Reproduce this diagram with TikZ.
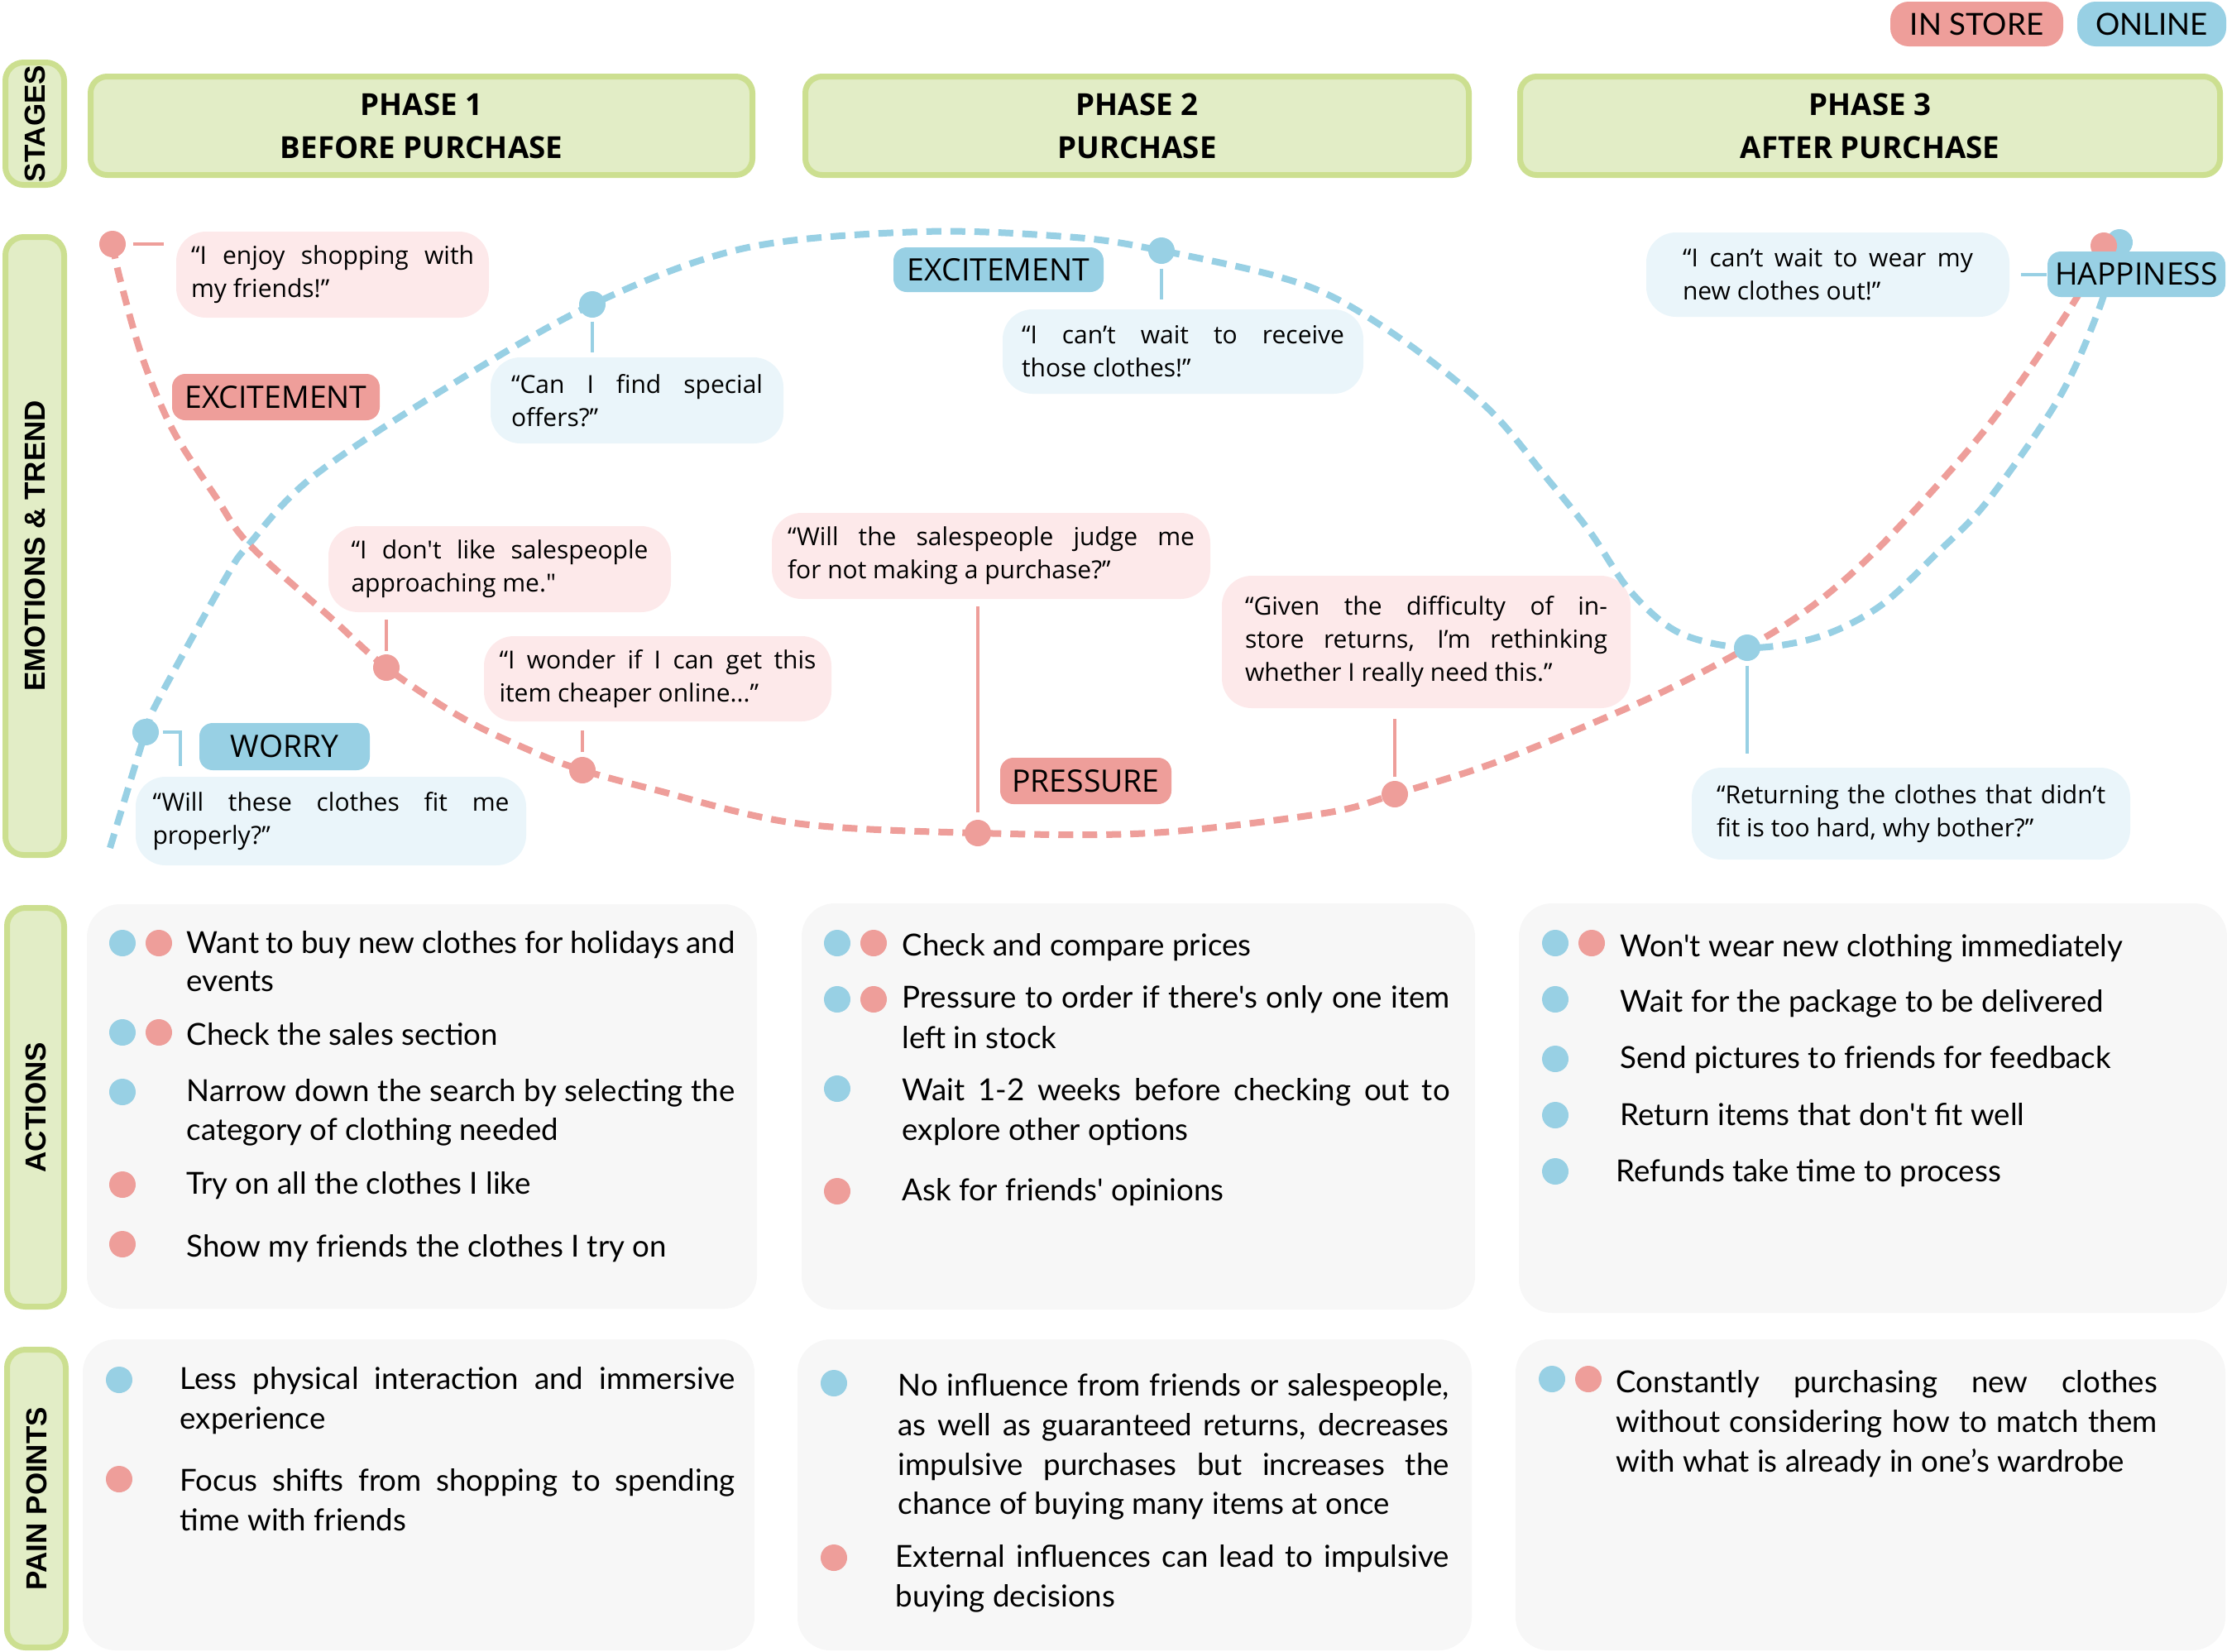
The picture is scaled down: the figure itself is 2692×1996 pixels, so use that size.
\documentclass[tikz,border=0pt]{standalone}
\usepackage{fontspec}
\newfontfamily\qfont{Open Sans}[Ligatures=TeXOff]
\newfontfamily\afont{Lato}[Ligatures=TeXOff]
\newfontfamily\sfont{Liberation Sans}[Ligatures=TeXOff]
\newlength\px
\setlength\px{0.3pt}
\definecolor{pk}{HTML}{EE9E9A}
\definecolor{bl}{HTML}{98D0E4}
\definecolor{pkl}{HTML}{FDE9EA}
\definecolor{bll}{HTML}{EAF5FA}
\definecolor{gf}{HTML}{E2EDC6}
\definecolor{gb}{HTML}{CCDF90}
\definecolor{pf}{HTML}{F7F7F7}
\begin{document}
\begin{tikzpicture}[x=0.3pt,y=-0.3pt,
 sidebox/.style={draw=gb, fill=gf, line width=7\px, rounded corners=22\px, inner sep=0},
 sidetxt/.style={rotate=90, inner sep=0, font=\sfont\bfseries\fontsize{10.5}{12}\selectfont},
 phasebox/.style={draw=gb, fill=gf, line width=7\px, rounded corners=20\px, inner sep=0, align=center, font=\qfont\bfseries\fontsize{11}{15.6}\selectfont},
 panel/.style={fill=pf, rounded corners=40\px, inner sep=0},
 bub/.style={rounded corners=36\px, inner sep=0, align=left, font=\qfont\fontsize{9}{12}\selectfont},
 bubp/.style={bub, fill=pkl},
 bubb/.style={bub, fill=bll},
 tag/.style={rounded corners=16\px, inner sep=0, font=\qfont\fontsize{11.2}{13}\selectfont},
 tagp/.style={tag, fill=pk},
 tagb/.style={tag, fill=bl},
 legend/.style={rounded corners=22\px, inner sep=0, font=\afont\fontsize{11}{13}\selectfont},
 dotp/.style={circle, fill=pk, inner sep=0, minimum size=32\px},
 dotb/.style={circle, fill=bl, inner sep=0, minimum size=32\px},
 trendp/.style={draw=pk, line width=8\px, dash pattern=on 18\px off 11\px},
 trendb/.style={draw=bl, line width=8\px, dash pattern=on 18\px off 11\px},
 connp/.style={draw=pk, line width=4\px},
 connb/.style={draw=bl, line width=4\px},
 act/.style={anchor=base west, inner sep=0, font=\afont\fontsize{11}{14}\selectfont},
]
\useasboundingbox (0,0) rectangle (2692,1996);
\clip (0,0) rectangle (2692,1996);

% legend
\node[legend, fill=pk, minimum width=209\px, minimum height=54\px] (lgS) at (2389.5,29) {IN STORE};
\node[legend, fill=bl, minimum width=180\px, minimum height=54\px] (lgO) at (2601,29) {ONLINE};

% side labels
\node[sidebox, minimum width=71\px, minimum height=148\px] (sSt) at (42,149.5) {};
\node[sidetxt] (tSt) at (sSt.center) {STAGES};
\node[sidebox, minimum width=71\px, minimum height=747\px] (sEm) at (42,660) {};
\node[sidetxt] (tEm) at (sEm.center) {EMOTIONS \& TREND};
\node[sidebox, minimum width=69\px, minimum height=482\px] (sAc) at (43,1338.5) {};
\node[sidetxt] (tAc) at (sAc.center) {ACTIONS};
\node[sidebox, minimum width=71\px, minimum height=360\px] (sPa) at (44,1811.5) {};
\node[sidetxt] (tPa) at (sPa.center) {PAIN POINTS};

% phases
\node[phasebox, minimum width=800\px, minimum height=119\px] (ph1) at (509.5,152) {PHASE 1\\BEFORE PURCHASE};
\node[phasebox, minimum width=802\px, minimum height=119\px] (ph2) at (1374.5,152) {PHASE 2\\PURCHASE};
\node[phasebox, minimum width=846\px, minimum height=119\px] (ph3) at (2260.5,152) {PHASE 3\\AFTER PURCHASE};

% panels
\node[panel, minimum width=810\px, minimum height=489\px] (pa1) at (510,1337.5) {};
\node[panel, minimum width=814\px, minimum height=491\px] (pa2) at (1376,1337.5) {};
\node[panel, minimum width=856\px, minimum height=495\px] (pa3) at (2264,1339.5) {};
\node[panel, minimum width=812\px, minimum height=376\px] (pp1) at (506,1807) {};
\node[panel, minimum width=815\px, minimum height=376\px] (pp2) at (1371.5,1807) {};
\node[panel, minimum width=858\px, minimum height=376\px] (pp3) at (2261,1807) {};

% quote bubbles
\node[bubp, minimum width=378\px, minimum height=104\px] (q1) at (402,332) {\makebox[342\px][s]{“I enjoy shopping with}\\my friends!”};
\node[bubb, minimum width=354\px, minimum height=104\px] (q2) at (770,484) {\makebox[304\px][s]{“Can I find special}\\offers?”};
\node[bubp, minimum width=414\px, minimum height=104\px] (q3) at (604,688) {\makebox[359\px][s]{“I don't like salespeople}\\approaching me."};
\node[bubp, minimum width=420\px, minimum height=103\px] (q4) at (795,820.5) {\makebox[383\px][s]{“I wonder if I can get this}\\item cheaper online...”};
\node[bubb, minimum width=472\px, minimum height=107\px] (q5) at (400,992.5) {\makebox[431\px][s]{“Will these clothes fit me}\\properly?”};
\node[bubp, minimum width=530\px, minimum height=104\px] (q6) at (1198,672) {\makebox[492\px][s]{“Will the salespeople judge me}\\for not making a purchase?”};
\node[bubp, minimum width=494\px, minimum height=160\px] (q7) at (1724,776) {\makebox[438\px][s]{“Given the difficulty of in-}\\\makebox[438\px][s]{store returns, I’m rethinking}\\whether I really need this.”};
\node[bubb, minimum width=436\px, minimum height=102\px] (q8) at (1430,425) {\makebox[390\px][s]{“I can’t wait to receive}\\those clothes!”};
\node[bubb, minimum width=439\px, minimum height=102\px] (q9) at (2209.5,332) {\makebox[351\px][s]{“I can’t wait to wear my}\\new clothes out!”};
\node[bubb, minimum width=530\px, minimum height=111\px] (q10) at (2310,983.5) {\makebox[470\px][s]{“Returning the clothes that didn’t}\\fit is too hard, why bother?”};

% trend curves
\draw[trendb] plot[smooth, tension=0.55] coordinates {(133,1025) (176,885) (192,845) (272,700) (301,658) (376,578) (531,474) (716,368) (900,300) (1116,280) (1300,287) (1404,303) (1540,333) (1619,363) (1712,423) (1802,497) (1869,577) (1922,643) (1971,715) (2030,765) (2112,783) (2198,770) (2272,733) (2340,670) (2403,605) (2489,481) (2536,377) (2562,293)};
\draw[trendp] plot[smooth, tension=0.55] coordinates {(136,295) (145,337) (172,432) (209,520) (261,601) (301,658) (399,746) (467,807) (559,868) (645,909) (704,931) (789,954) (961,995) (1182,1007) (1391,1007) (1601,983) (1686,960) (1812,920) (1987,847) (2112,783) (2198,727) (2283,650) (2403,515) (2504,370) (2543,297)};

% dots
\node[dotp] (P1) at (136,295) {};
\node[dotp] (P2) at (467,807) {};
\node[dotp] (P3) at (704,931) {};
\node[dotp] (P4) at (1182,1007) {};
\node[dotp] (P5) at (1686,960) {};
\node[dotb] (B0) at (176,885) {};
\node[dotb] (B1) at (716,368) {};
\node[dotb] (B2) at (1404,303) {};
\node[dotb] (B3) at (2112,783) {};
\node[dotb] (BH) at (2562,293) {};
\node[dotp] (PH) at (2543,297) {};

% emotion tags
\node[tagp, minimum width=251\px, minimum height=56\px] (eEx) at (333.5,480) {EXCITEMENT};
\node[tagb, minimum width=254\px, minimum height=54\px] (eEx2) at (1207,326) {EXCITEMENT};
\node[tagb, minimum width=206\px, minimum height=57\px] (eWo) at (344,902.5) {WORRY};
\node[tagp, minimum width=207\px, minimum height=56\px] (ePr) at (1312.5,944) {PRESSURE};
\node[tagb, minimum width=215\px, minimum height=55\px] (eHa) at (2582.5,331.5) {HAPPINESS};

% connectors
\coordinate (b0k) at (218,939);
\draw[connp, shorten <=8\px, shorten >=14\px] (P1) -- (P1 -| q1.west);
\draw[connb, shorten <=4\px, shorten >=5\px] (B1) -- (B1 |- q2.north);
\draw[connp, shorten <=3\px, shorten >=8\px] (P2) -- (P2 |- q3.south);
\draw[connp, shorten <=5\px, shorten >=10\px] (P3) -- (P3 |- q4.south);
\draw[connb, shorten <=4\px, shorten >=13\px] (B0) -| (b0k);
\draw[connp, shorten <=8\px, shorten >=8\px] (P4) -- (P4 |- q6.south);
\draw[connp, shorten <=4\px, shorten >=12\px] (P5) -- (P5 |- q7.south);
\draw[connb, shorten <=5\px, shorten >=11\px] (B2) -- (B2 |- q8.north);
\draw[connb, shorten <=13\px] (q9.east) -- (q9.east -| eHa.west);
\draw[connb, shorten <=5\px, shorten >=16\px] (B3) -- (B3 |- q10.north);

% actions phase 1
\node[dotb] (a1b1) at (148,1140) {};
\node[dotp] (a1p1) at (192,1140) {};
\node[act] (a1t1) at (225,1152) {\makebox[663\px][s]{Want to buy new clothes for holidays and}};
\node[act] (a1t1b) at (225,1198) {events};
\node[dotb] (a1b2) at (148,1248) {};
\node[dotp] (a1p2) at (192,1248) {};
\node[act] (a1t2) at (225,1263) {Check the sales section};
\node[dotb] (a1b3) at (148,1320) {};
\node[act] (a1t3) at (225,1331) {\makebox[663\px][s]{Narrow down the search by selecting the}};
\node[act] (a1t3b) at (225,1378) {category of clothing needed};
\node[dotp] (a1p4) at (148,1432) {};
\node[act] (a1t4) at (225,1443) {Try on all the clothes I like};
\node[dotp] (a1p5) at (148,1504) {};
\node[act] (a1t5) at (225,1519) {Show my friends the clothes I try on};

% actions phase 2
\node[dotb] (a2b1) at (1012,1140) {};
\node[dotp] (a2p1) at (1056,1140) {};
\node[act] (a2t1) at (1090,1155) {Check and compare prices};
\node[dotb] (a2b2) at (1012,1208) {};
\node[dotp] (a2p2) at (1056,1208) {};
\node[act] (a2t2) at (1090,1218) {\makebox[662\px][s]{Pressure to order if there's only one item}};
\node[act] (a2t2b) at (1090,1267) {left in stock};
\node[dotb] (a2b3) at (1012,1316) {};
\node[act] (a2t3) at (1090,1330) {\makebox[662\px][s]{Wait 1-2 weeks before checking out to}};
\node[act] (a2t3b) at (1090,1378) {explore other options};
\node[dotp] (a2p4) at (1012,1440) {};
\node[act] (a2t4) at (1090,1451) {Ask for friends' opinions};

% actions phase 3
\node[dotb] (a3b1) at (1880,1140) {};
\node[dotp] (a3p1) at (1924,1140) {};
\node[act] (a3t1) at (1958,1156) {Won't wear new clothing immediately};
\node[dotb] (a3b2) at (1880,1208) {};
\node[act] (a3t2) at (1958,1223) {Wait for the package to be delivered};
\node[dotb] (a3b3) at (1880,1280) {};
\node[act] (a3t3) at (1958,1291) {Send pictures to friends for feedback};
\node[dotb] (a3b4) at (1880,1348) {};
\node[act] (a3t4) at (1958,1360) {Return items that don't fit well};
\node[dotb] (a3b5) at (1880,1416) {};
\node[act] (a3t5) at (1953,1428) {Refunds take time to process};

% pain points phase 1
\node[dotb] (p1b1) at (144,1668) {};
\node[act] (p1t1) at (217,1679) {\makebox[671\px][s]{Less physical interaction and immersive}};
\node[act] (p1t1b) at (217,1727) {experience};
\node[dotp] (p1p2) at (144,1788) {};
\node[act] (p1t2) at (217,1802) {\makebox[671\px][s]{Focus shifts from shopping to spending}};
\node[act] (p1t2b) at (217,1850) {time with friends};

% pain points phase 2
\node[dotb] (p2b1) at (1008,1672) {};
\node[act] (p2t1) at (1085,1687) {\makebox[666\px][s]{No influence from friends or salespeople,}};
\node[act] (p2t1b) at (1085,1735) {\makebox[666\px][s]{as well as guaranteed returns, decreases}};
\node[act] (p2t1c) at (1085,1783) {\makebox[666\px][s]{impulsive purchases but increases the}};
\node[act] (p2t1d) at (1085,1830) {chance of buying many items at once};
\node[dotp] (p2p2) at (1008,1883) {};
\node[act] (p2t2) at (1082,1894) {\makebox[669\px][s]{External influences can lead to impulsive}};
\node[act] (p2t2b) at (1082,1942) {buying decisions};

% pain points phase 3
\node[dotb] (p3b1) at (1876,1667) {};
\node[dotp] (p3p1) at (1920,1667) {};
\node[act] (p3t1) at (1953,1683) {\makebox[654\px][s]{Constantly purchasing new clothes}};
\node[act] (p3t1b) at (1953,1731) {\makebox[654\px][s]{without considering how to match them}};
\node[act] (p3t1c) at (1953,1779) {with what is already in one’s wardrobe};
\end{tikzpicture}
\end{document}
